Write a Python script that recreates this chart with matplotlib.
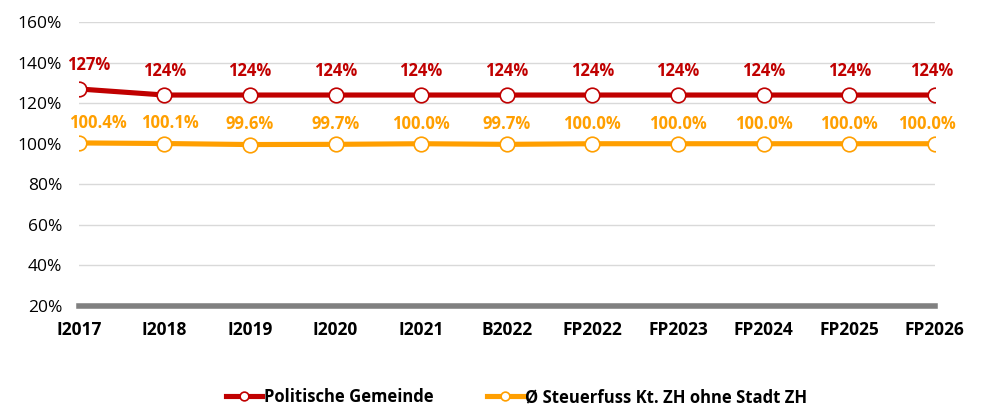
#line chart of tax rates (Steuerfuss)
import matplotlib.pyplot as plt
import numpy as np

plt.rcParams['font.family'] = ['Open Sans', 'DejaVu Sans']

years = ['I2017', 'I2018', 'I2019', 'I2020', 'I2021', 'B2022',
         'FP2022', 'FP2023', 'FP2024', 'FP2025', 'FP2026']
gemeinde = [127, 124, 124, 124, 124, 124, 124, 124, 124, 124, 124]
kanton = [100.4, 100.1, 99.6, 99.7, 100.0, 99.7, 100.0, 100.0, 100.0, 100.0, 100.0]
gemeinde_labels = ['127%'] + ['124%'] * 10
kanton_labels = ['100.4%', '100.1%', '99.6%', '99.7%', '100.0%', '99.7%',
                 '100.0%', '100.0%', '100.0%', '100.0%', '100.0%']

red = '#C00000'
orange = '#FF9F00'

fig = plt.figure(figsize=(9.84, 4.07), dpi=100)
ax = fig.add_axes([0.080, 0.248, 0.870, 0.698])
x = np.arange(len(years))

ax.plot(x, gemeinde, color=red, lw=3.7, marker='o', ms=10.5, mfc='white',
        mec=red, mew=1.2, label='Politische Gemeinde', zorder=3)
ax.plot(x, kanton, color=orange, lw=3.7, marker='o', ms=10.5, mfc='white',
        mec=orange, mew=1.2, label='Ø Steuerfuss Kt. ZH ohne Stadt ZH', zorder=3)

n = len(x)
for i in range(n):
    # end labels are nudged inwards like in the original
    dx_r = 7 if i == 0 else (-2 if i == n - 1 else 0)
    dx_o = 14 if i == 0 else (4 if i == 1 else (-6 if i == n - 1 else 0))
    ax.annotate(gemeinde_labels[i], (x[i], gemeinde[i]), xytext=(dx_r, 11),
                textcoords='offset points', ha='center', va='bottom',
                color=red, fontsize=12, fontweight='bold')
    ax.annotate(kanton_labels[i], (x[i], kanton[i]), xytext=(dx_o, 8),
                textcoords='offset points', ha='center', va='bottom',
                color=orange, fontsize=12, fontweight='bold')

ax.set_xlim(0, 10)
ax.set_ylim(20, 160)
ax.set_yticks(np.arange(20, 161, 20))
ax.set_yticklabels([f'{v}%' for v in range(20, 161, 20)], fontsize=12.5)
ax.set_xticks(x)
ax.set_xticklabels(years, fontsize=12.5, fontweight='bold')
ax.grid(axis='y', color='#D9D9D9', lw=1)
ax.set_axisbelow(True)
for s in ['top', 'right', 'left']:
    ax.spines[s].set_visible(False)
ax.spines['bottom'].set_color('#808080')
ax.spines['bottom'].set_linewidth(4)
ax.tick_params(axis='both', length=0)
ax.tick_params(axis='x', pad=11)
ax.tick_params(axis='y', pad=12)

leg = fig.legend(loc='lower center', bbox_to_anchor=(0.525, -0.035), ncol=2,
                 frameon=False, fontsize=12, columnspacing=3.2,
                 handlelength=2.2, handletextpad=0.1, markerscale=0.6)
for t in leg.get_texts():
    t.set_fontweight('bold')

plt.savefig('out.png', dpi=100)
